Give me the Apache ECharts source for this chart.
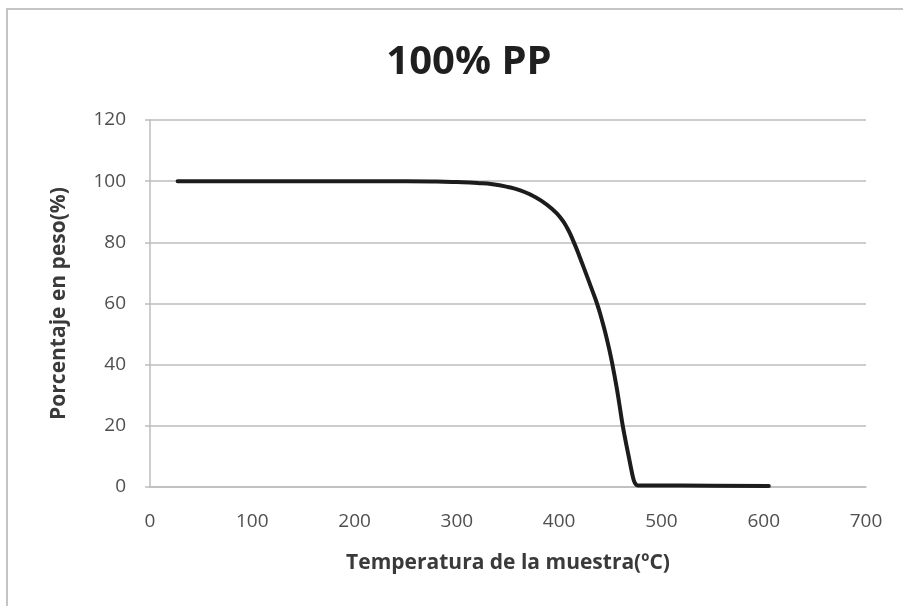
<!DOCTYPE html>
<html>
<head>
<meta charset="utf-8">
<script src="https://cdn.jsdelivr.net/npm/echarts@6/dist/echarts.min.js"></script>
<style>
  html, body { margin: 0; padding: 0; background: #ffffff; }
  #chart { width: 903px; height: 606px; }
</style>
</head>
<body>
<div id="chart"></div>
<script>
// TGA curve of polypropylene: residual mass vs. sample temperature
const temperatures = [27, 60, 100, 150, 200, 250, 280, 300, 320, 335, 350, 362, 372, 382, 392, 401, 408, 414, 420, 426, 432, 437, 441, 445, 449, 452, 456, 459, 462, 465, 468, 471, 473, 475, 477, 490, 550, 605];
const weightPct    = [100, 100, 100, 100, 100, 100, 99.9, 99.7, 99.4, 99.0, 98.1, 97.0, 95.6, 93.7, 91.2, 88.2, 84.6, 80.3, 75.3, 70, 64.6, 60, 55.6, 50.6, 45, 40.2, 33, 26.8, 20.4, 15, 10, 5, 2.2, 0.9, 0.5, 0.5, 0.4, 0.3];
const xTicks = [0, 100, 200, 300, 400, 500, 600, 700];
const yTicks = [0, 20, 40, 60, 80, 100, 120];

const chartTitle = '100% PP';
const xName = 'Temperatura de la muestra(ºC)';
const yName = 'Porcentaje en peso(%)';

const points = temperatures.map((t, i) => [t, weightPct[i]]);
const font = "'Open Sans', 'Noto Sans', sans-serif";

const chart = echarts.init(document.getElementById('chart'), null, { renderer: 'canvas' });
chart.setOption({
  backgroundColor: '#ffffff',
  animation: false,
  title: {
    text: chartTitle,
    left: 464,
    textAlign: 'center',
    top: 38,
    textStyle: { fontFamily: font, fontSize: 40, fontWeight: 'bold', color: '#1f1f1f' }
  },
  graphic: [{
    type: 'polyline',
    shape: { points: [[7, 606], [7, 9], [903, 9]] },
    style: { stroke: '#c4c4c4', lineWidth: 2, fill: null },
    silent: true
  }],
  grid: { left: 150, right: 37, top: 120, bottom: 119 },
  xAxis: {
    type: 'value',
    min: xTicks[0],
    max: xTicks[xTicks.length - 1],
    interval: xTicks[1] - xTicks[0],
    name: xName,
    nameLocation: 'middle',
    nameGap: 66,
    nameTextStyle: { fontFamily: font, fontSize: 21, fontWeight: 'bold', color: '#3a3a3a' },
    axisLine: { show: true, lineStyle: { color: '#bdbdbd', width: 1.5 } },
    axisTick: { show: false },
    splitLine: { show: false },
    axisLabel: { fontFamily: font, fontSize: 19, color: '#4f4f4f', margin: 25 }
  },
  yAxis: {
    type: 'value',
    min: yTicks[0],
    max: yTicks[yTicks.length - 1],
    interval: yTicks[1] - yTicks[0],
    name: yName,
    nameLocation: 'middle',
    nameGap: 80,
    nameTextStyle: { fontFamily: font, fontSize: 21, fontWeight: 'bold', color: '#3a3a3a' },
    axisLine: { show: true, lineStyle: { color: '#bdbdbd', width: 1.5 } },
    axisTick: { show: true, length: 5, lineStyle: { color: '#bdbdbd', width: 1.5 } },
    splitLine: { show: true, lineStyle: { color: '#bdbdbd', width: 1.5 } },
    axisLabel: { fontFamily: font, fontSize: 19, color: '#4f4f4f', margin: 24 }
  },
  series: [{
    type: 'line',
    data: points,
    smooth: 0.5,
    showSymbol: false,
    lineStyle: { color: '#1c1c1c', width: 4, cap: 'round', join: 'round' }
  }]
});
</script>
</body>
</html>
